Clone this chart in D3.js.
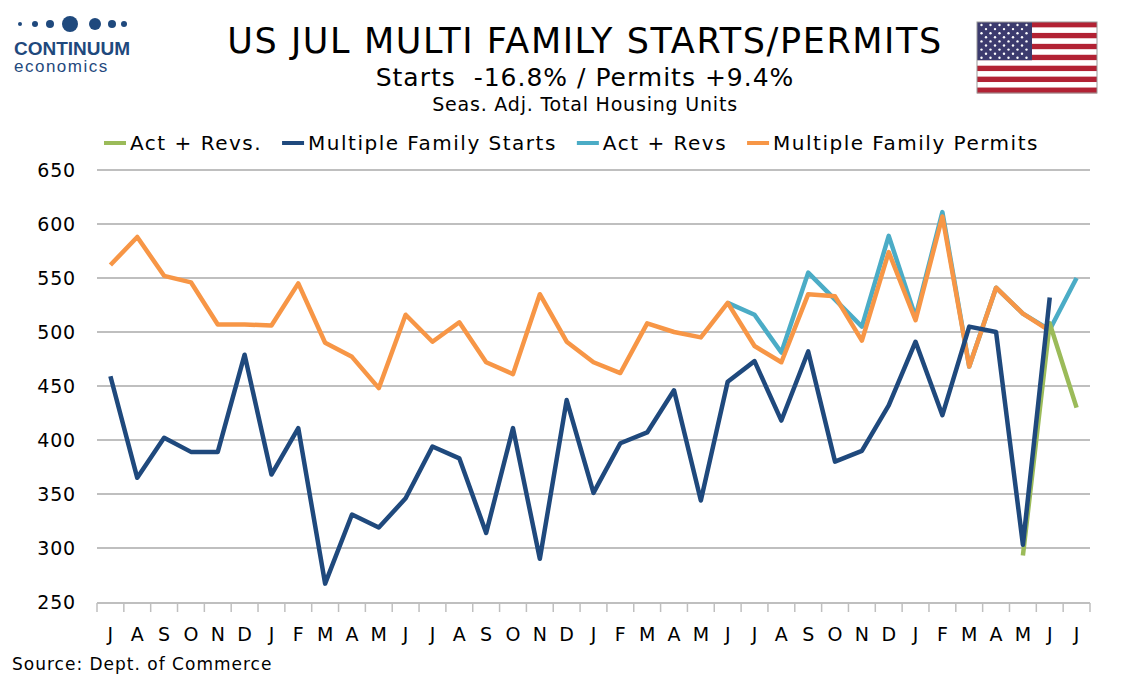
<!DOCTYPE html>
<html><head><meta charset="utf-8">
<script src="https://cdn.jsdelivr.net/npm/d3@7"></script>
<style>body{margin:0;background:#fff;font-family:Verdana,"DejaVu Sans",sans-serif;}</style>
</head><body><svg id="c" width="1134" height="680"></svg>
<script>
const months = ["J","A","S","O","N","D","J","F","M","A","M","J","J","A","S","O","N","D","J","F","M","A","M","J","J","A","S","O","N","D","J","F","M","A","M","J","J"];
const starts = [459,365,402,389,389,479,368,411,267,331,319,346,394,383,314,411,290,437,351,397,407,446,344,454,473,418,482,380,390,432,491,423,505,500,303,532,null];
const startsRev = [null,null,null,null,null,null,null,null,null,null,null,null,null,null,null,null,null,null,null,null,null,null,null,null,null,null,null,null,null,null,null,null,null,null,293,508,430];
const permits = [562,588,552,546,507,507,506,545,490,477,448,516,491,509,472,461,535,491,472,462,508,500,495,527,487,472,535,533,492,574,511,607,468,541,517,501,null];
const permitsRev = [null,null,null,null,null,null,null,null,null,null,null,null,null,null,null,null,null,null,null,null,null,null,null,527,516,481,555,530,505,589,514,611,468,541,517,502,550];
const yTicks = [250,300,350,400,450,500,550,600,650];
const legend = [["Act + Revs.","#9bbb59"],["Multiple Family Starts","#1f497d"],["Act + Revs","#4bacc6"],["Multiple Family Permits","#f79646"]];

const svg = d3.select("#c");
const x = d3.scaleBand().domain(d3.range(months.length)).range([97,1090]);
const y = d3.scaleLinear().domain([250,650]).range([602,170]);

svg.append("g").selectAll("line").data(yTicks.slice(1)).join("line")
  .attr("x1",97).attr("x2",1090).attr("y1",d=>y(d)).attr("y2",d=>y(d))
  .attr("stroke","#bfbfbf").attr("stroke-width",2);
svg.append("g").selectAll("text").data(yTicks).join("text")
  .attr("x",76).attr("y",d=>y(d)+7).attr("text-anchor","end")
  .attr("font-size",19).attr("letter-spacing",0.8).attr("fill","#000").text(d=>d);

// x axis
svg.append("line").attr("x1",97).attr("x2",1090).attr("y1",603).attr("y2",603).attr("stroke","#bfbfbf").attr("stroke-width",2);
svg.append("g").selectAll("line").data(d3.range(months.length+1)).join("line")
  .attr("x1",d=>97+d*x.step()).attr("x2",d=>97+d*x.step()).attr("y1",603).attr("y2",612)
  .attr("stroke","#bfbfbf").attr("stroke-width",1.5);
svg.append("g").selectAll("text").data(months).join("text")
  .attr("x",(d,i)=>x(i)+x.bandwidth()/2).attr("y",641).attr("text-anchor","middle")
  .attr("font-size",19).text(d=>d);

const line = d3.line().defined(d=>d!=null).x((d,i)=>x(i)+x.bandwidth()/2).y(d=>y(d));
function draw(data,col){
  svg.append("path").datum(data).attr("d",line).attr("fill","none")
    .attr("stroke",col).attr("stroke-width",4.5).attr("stroke-linejoin","round");
}
draw(permitsRev,"#4bacc6");
draw(permits,"#f79646");
draw(startsRev,"#9bbb59");
draw(starts,"#1f497d");

// legend
let lx = 104;
legend.forEach(([t,c])=>{
  svg.append("line").attr("x1",lx).attr("x2",lx+22).attr("y1",143).attr("y2",143).attr("stroke",c).attr("stroke-width",4);
  const tx = svg.append("text").attr("x",lx+26).attr("y",150).attr("font-size",20).attr("letter-spacing",1.5).text(t);
  lx += 26 + tx.node().getComputedTextLength() + 20;
});

// titles
svg.append("text").attr("x",585).attr("y",53).attr("text-anchor","middle").attr("font-size",35).attr("letter-spacing",1.6).text("US JUL MULTI FAMILY STARTS/PERMITS");
svg.append("text").attr("x",585).attr("y",86).attr("text-anchor","middle").attr("font-size",25).attr("letter-spacing",1).attr("xml:space","preserve").text("Starts  -16.8% / Permits +9.4%");
svg.append("text").attr("x",585).attr("y",111).attr("text-anchor","middle").attr("font-size",19).attr("letter-spacing",0.8).text("Seas. Adj. Total Housing Units");
svg.append("text").attr("x",12).attr("y",670).attr("font-size",17).attr("letter-spacing",1).text("Source: Dept. of Commerce");

// logo
const dots = [[20,2],[35,3],[50,4],[70,8],[95,6],[112,4],[124,3]];
svg.append("g").selectAll("circle").data(dots).join("circle")
  .attr("cx",d=>d[0]).attr("cy",24).attr("r",d=>d[1]).attr("fill","#1f497d");
svg.append("text").attr("x",14).attr("y",55).attr("font-size",19).attr("font-weight","bold").attr("fill","#1f497d").attr("font-family","Arial,Liberation Sans").text("CONTINUUM");
svg.append("text").attr("x",14).attr("y",72).attr("font-size",17).attr("letter-spacing",1.5).attr("fill","#1f497d").attr("font-family","Arial,Liberation Sans").text("economics");

// flag
const fg = svg.append("g").attr("transform","translate(977,22)");
const fw = 120, fh = 71;
d3.range(13).forEach(i=>{
  fg.append("rect").attr("x",0).attr("y",i*fh/13).attr("width",fw).attr("height",fh/13+0.3).attr("fill",i%2?"#fff":"#b22234");
});
fg.append("rect").attr("width",55).attr("height",fh*7/13).attr("fill","#3c3b6e");
for(let r=0;r<9;r++){for(let c=0;c<(r%2?5:6);c++){
  fg.append("circle").attr("cx",4.5+c*9+(r%2?4.5:0)).attr("cy",3+r*4.1).attr("r",1.2).attr("fill","#fff");
}}
fg.append("rect").attr("width",fw).attr("height",fh).attr("fill","none").attr("stroke","#999").attr("stroke-width",1);
</script></body></html>
